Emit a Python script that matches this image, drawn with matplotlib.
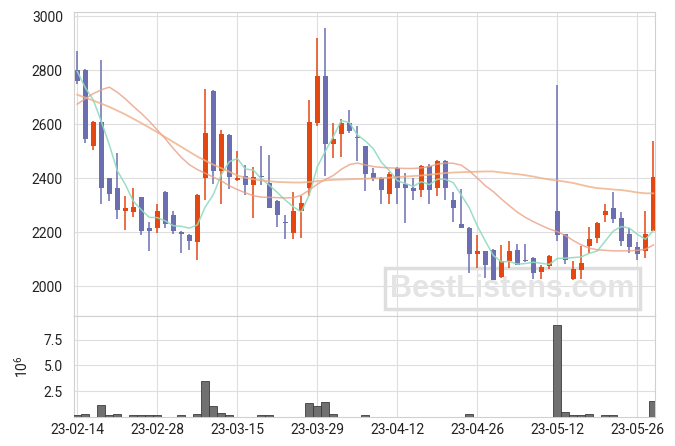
"""
日K线图 + 成交量
K线(涨红跌蓝) + MA5/MA20/MA60 均线, 下方成交量柱状图
"""

import numpy as np
import pandas as pd
import matplotlib
matplotlib.use('Agg')
import matplotlib.pyplot as plt

plt.rcParams['font.family'] = ['Liberation Sans Narrow', 'Roboto', 'DejaVu Sans']
plt.rcParams['mathtext.default'] = 'regular'

# ============================================================
# 数据
# ============================================================
holidays = ['2023-03-01', '2023-05-01', '2023-05-05', '2023-05-29']
dates = pd.bdate_range('2023-02-14', '2023-05-31', freq='C', holidays=holidays)

opens = [2800, 2800, 2520, 2607, 2400, 2363, 2280, 2276, 2331, 2216,
         2214, 2349, 2264, 2199, 2190, 2165, 2399, 2723, 2428, 2560,
         2392, 2409, 2373, 2406, 2383, 2316, 2236, 2196, 2277, 2365,
         2606, 2779, 2528, 2562, 2605, 2553, 2519, 2418, 2402, 2343,
         2438, 2379, 2363, 2357, 2446, 2362, 2464, 2318, 2231, 2216,
         2121, 2131, 2135, 2035, 2094, 2133, 2097, 2106, 2053, 2075,
         2280, 2192, 2026, 2060, 2149, 2178, 2263, 2291, 2251, 2192,
         2147, 2131, 2204]
highs = [2870, 2805, 2610, 2837, 2400, 2492, 2335, 2365, 2332, 2237,
         2306, 2352, 2279, 2205, 2194, 2340, 2730, 2728, 2580, 2562,
         2500, 2450, 2440, 2519, 2486, 2318, 2262, 2348, 2334, 2690,
         2918, 2955, 2605, 2619, 2652, 2594, 2520, 2437, 2405, 2422,
         2440, 2419, 2400, 2450, 2452, 2466, 2466, 2349, 2359, 2218,
         2189, 2132, 2137, 2152, 2168, 2155, 2155, 2108, 2079, 2115,
         2745, 2193, 2093, 2149, 2221, 2237, 2305, 2348, 2273, 2215,
         2163, 2278, 2536]
lows = [2750, 2530, 2505, 2305, 2314, 2248, 2208, 2258, 2190, 2131,
        2197, 2216, 2193, 2122, 2133, 2096, 2318, 2378, 2304, 2359,
        2390, 2338, 2252, 2375, 2288, 2220, 2176, 2176, 2177, 2335,
        2594, 2409, 2474, 2479, 2569, 2462, 2353, 2390, 2306, 2304,
        2306, 2233, 2318, 2331, 2306, 2333, 2318, 2236, 2214, 2048,
        2067, 2032, 2022, 2032, 2066, 2078, 2090, 2026, 2026, 2065,
        2166, 2081, 2022, 2028, 2123, 2160, 2237, 2233, 2149, 2124,
        2098, 2106, 2203]
closes = [2760, 2545, 2607, 2365, 2343, 2282, 2290, 2294, 2205, 2203,
          2278, 2230, 2205, 2194, 2166, 2338, 2568, 2427, 2564, 2406,
          2400, 2374, 2406, 2403, 2289, 2265, 2234, 2279, 2309, 2608,
          2778, 2528, 2546, 2605, 2573, 2548, 2417, 2400, 2358, 2416,
          2362, 2362, 2351, 2446, 2357, 2464, 2362, 2288, 2214, 2121,
          2131, 2079, 2025, 2094, 2131, 2079, 2093, 2050, 2070, 2113,
          2189, 2097, 2063, 2085, 2176, 2235, 2280, 2248, 2168, 2145,
          2119, 2192, 2404]

# 均线
ma5 = [2795, 2735, 2690, 2610, 2524, 2428, 2377, 2315, 2283, 2255,
       2254, 2242, 2224, 2222, 2215, 2227, 2294, 2339, 2413, 2461,
       2473, 2434, 2430, 2398, 2374, 2347, 2319, 2294, 2275, 2339,
       2442, 2500, 2554, 2613, 2606, 2560, 2538, 2509, 2459, 2428,
       2391, 2380, 2370, 2387, 2376, 2396, 2396, 2383, 2337, 2290,
       2223, 2167, 2114, 2090, 2092, 2082, 2084, 2089, 2085, 2081,
       2103, 2104, 2106, 2109, 2122, 2131, 2168, 2205, 2221, 2215,
       2192, 2174, 2206]
ma20 = [2674, 2694, 2713, 2727, 2737, 2718, 2694, 2666, 2640, 2611,
        2578, 2546, 2510, 2477, 2450, 2432, 2418, 2404, 2390, 2372,
        2358, 2346, 2335, 2330, 2329, 2328, 2327, 2328, 2337, 2356,
        2378, 2395, 2410, 2433, 2450, 2456, 2449, 2443, 2440, 2438,
        2437, 2436, 2436, 2438, 2443, 2452, 2456, 2455, 2448, 2427,
        2400, 2372, 2350, 2323, 2298, 2274, 2255, 2239, 2225, 2212,
        2202, 2188, 2169, 2153, 2141, 2135, 2133, 2131, 2131, 2131,
        2133, 2137, 2153]
ma60 = [2709, 2698, 2687, 2676, 2664, 2650, 2636, 2620, 2604, 2587,
        2570, 2552, 2534, 2516, 2498, 2480, 2465, 2450, 2437, 2424,
        2410, 2402, 2396, 2392, 2389, 2386, 2385, 2384, 2384, 2386,
        2389, 2392, 2394, 2395, 2396, 2397, 2398, 2399, 2400, 2402,
        2404, 2406, 2408, 2410, 2413, 2416, 2419, 2421, 2422, 2423,
        2424, 2425, 2425, 2421, 2418, 2415, 2411, 2406, 2400, 2395,
        2391, 2387, 2382, 2375, 2368, 2363, 2361, 2358, 2356, 2352,
        2347, 2344, 2344]

# 成交量 (单位: 10^6)
volumes = [0.16, 0.32, 0.03, 1.14, 0.16, 0.26, 0.03, 0.16, 0.16, 0.16,
           0.16, 0.03, 0.03, 0.16, 0.03, 0.26, 3.54, 1.04, 0.36, 0.16,
           0.03, 0.03, 0.03, 0.16, 0.16, 0.03, 0.03, 0.03, 0.03, 1.40,
           1.04, 1.49, 0.26, 0.03, 0.03, 0.03, 0.16, 0.03, 0.03, 0.03,
           0.03, 0.03, 0.03, 0.03, 0.03, 0.03, 0.03, 0.03, 0.03, 0.26,
           0.03, 0.03, 0.03, 0.03, 0.03, 0.03, 0.0, 0.0, 0.0, 0.0,
           8.90, 0.52, 0.23, 0.16, 0.26, 0.03, 0.16, 0.16, 0.03, 0.03,
           0.03, 0.03, 1.53]

UP_COLOR = '#e4470f'
DOWN_COLOR = '#6b6fb2'
GRID_COLOR = '#dedede'


def style_axis(ax):
    ax.grid(True, color=GRID_COLOR, lw=0.8)
    ax.set_axisbelow(True)
    for sp in ax.spines.values():
        sp.set_color('#d0d0d0')
        sp.set_linewidth(0.8)
    ax.tick_params(length=0, labelsize=10, colors='#222222', pad=8)


# ============================================================
# 绘图
# ============================================================
x = np.arange(len(closes))
o = np.array(opens)
c = np.array(closes)
colors = [UP_COLOR if cc >= oo else DOWN_COLOR for oo, cc in zip(o, c)]

fig = plt.figure(figsize=(6.75, 4.46), dpi=100)
ax = fig.add_axes([0.1096, 0.2915, 0.8608, 0.6816])
axv = fig.add_axes([0.1096, 0.065, 0.8608, 0.2265], sharex=ax)

# K线: 影线 + 实体
ax.vlines(x, lows, highs, colors=colors, lw=1.1, zorder=3)
body_h = np.maximum(np.abs(c - o), 4)
ax.bar(x, body_h, bottom=np.minimum(o, c), width=0.62, color=colors,
       linewidth=0, zorder=4)

# 均线
ax.plot(x, ma5, color='#8fdcbf', lw=1.1, alpha=0.9, zorder=5)
ax.plot(x, ma20, color='#eb9f86', lw=1.1, alpha=0.8, zorder=5)
ax.plot(x, ma60, color='#eeae86', lw=1.3, alpha=0.8, zorder=5)

# 水印
ax.text(0.755, 0.09, 'BestListens.com', transform=ax.transAxes,
        ha='center', va='center', fontsize=22, fontweight='bold',
        family='Liberation Sans', color='#e4e4e4', zorder=1,
        bbox=dict(boxstyle='square,pad=0.18', fc='none', ec='#dedede', lw=2.5))

ax.set_ylim(1890, 3015)
ax.set_yticks(np.arange(2000, 3001, 200))
ax.set_xlim(-0.41, 72.2)
style_axis(ax)
ax.tick_params(labelbottom=False)

# 成交量
axv.bar(x, volumes, width=1.0, color='#707070', edgecolor='#3c3c3c',
        linewidth=0.6, zorder=3)
axv.set_ylim(0, 9.8)
axv.set_yticks([2.5, 5.0, 7.5])
axv.set_yticklabels(['2.5', '5.0', '7.5'])
tick_pos = x[::10]
axv.set_xticks(tick_pos)
axv.set_xticklabels(dates[::10].strftime('%y-%m-%d'))
style_axis(axv)
axv.tick_params(axis='x', pad=4)
axv.set_ylabel('$10^6$', fontsize=10, color='#222222')
axv.yaxis.set_label_coords(-0.075, 0.5)

fig.savefig('out.png', dpi=100)
